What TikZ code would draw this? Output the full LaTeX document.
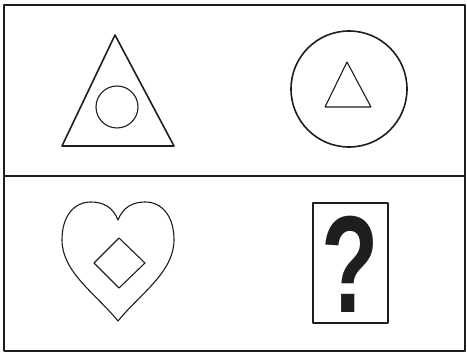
\documentclass[tikz,border=0pt]{standalone}
\usepackage{fontspec}
\setmainfont{Liberation Sans}
\definecolor{inkgray}{RGB}{30, 30, 30}
\usepackage{tikz}
\usetikzlibrary{positioning}

\begin{document}
\begin{tikzpicture}[x=1pt, y=-1pt, line join=round]
      \useasboundingbox (0,0) rectangle (467,355);
      \tikzset{outline/.style={draw=inkgray, line width=1.6pt}, thinline/.style={draw=inkgray, line width=1.1pt}}
      % frame and panels
      \node (frame) [draw=inkgray, line width=2pt, minimum width=461pt, minimum height=346pt, inner sep=0pt] at (234.5,178) {};
      \draw[inkgray, line width=2pt] (frame.west |- 0,176) coordinate (midl) -- (frame.east |- 0,176) coordinate (midr);
      % top left: triangle with circle
      \draw[outline] (115,35) -- (174,146) -- (62,146) -- cycle;
      \node (ring) [thinline, circle, minimum size=42pt, inner sep=0pt] at (117,107) {};
      % top right: circle with triangle
      \node (disc) [outline, circle, minimum size=116pt, inner sep=0pt] at (349,89) {};
      \draw[thinline] (347,62) -- (371,107) -- (325,107) -- cycle;
      % bottom left: heart with diamond
      \draw[thinline] (118,220) .. controls (113,207) and (103,202) .. (91,202) .. controls (74,202) and (62,216) .. (62,240) .. controls (62,272) and (96,294) .. (118,321) .. controls (140,294) and (174,272) .. (174,240) .. controls (174,216) and (162,202) .. (145,202) .. controls (133,202) and (123,207) .. (118,220) -- cycle;
      \draw[thinline] (119,238) -- (145,263) -- (119,288) -- (94,263) -- cycle;
      % bottom right: question box
      \node (qbox) [draw=inkgray, line width=1.6pt, minimum width=75pt, minimum height=120pt, inner sep=0pt] at (350.5,263) {};
      \node (qmark) [text=inkgray, font=\bfseries\fontsize{138}{138}\selectfont, xscale=0.68, inner sep=0pt] at (350,264) {?};
    \end{tikzpicture}
\end{document}
